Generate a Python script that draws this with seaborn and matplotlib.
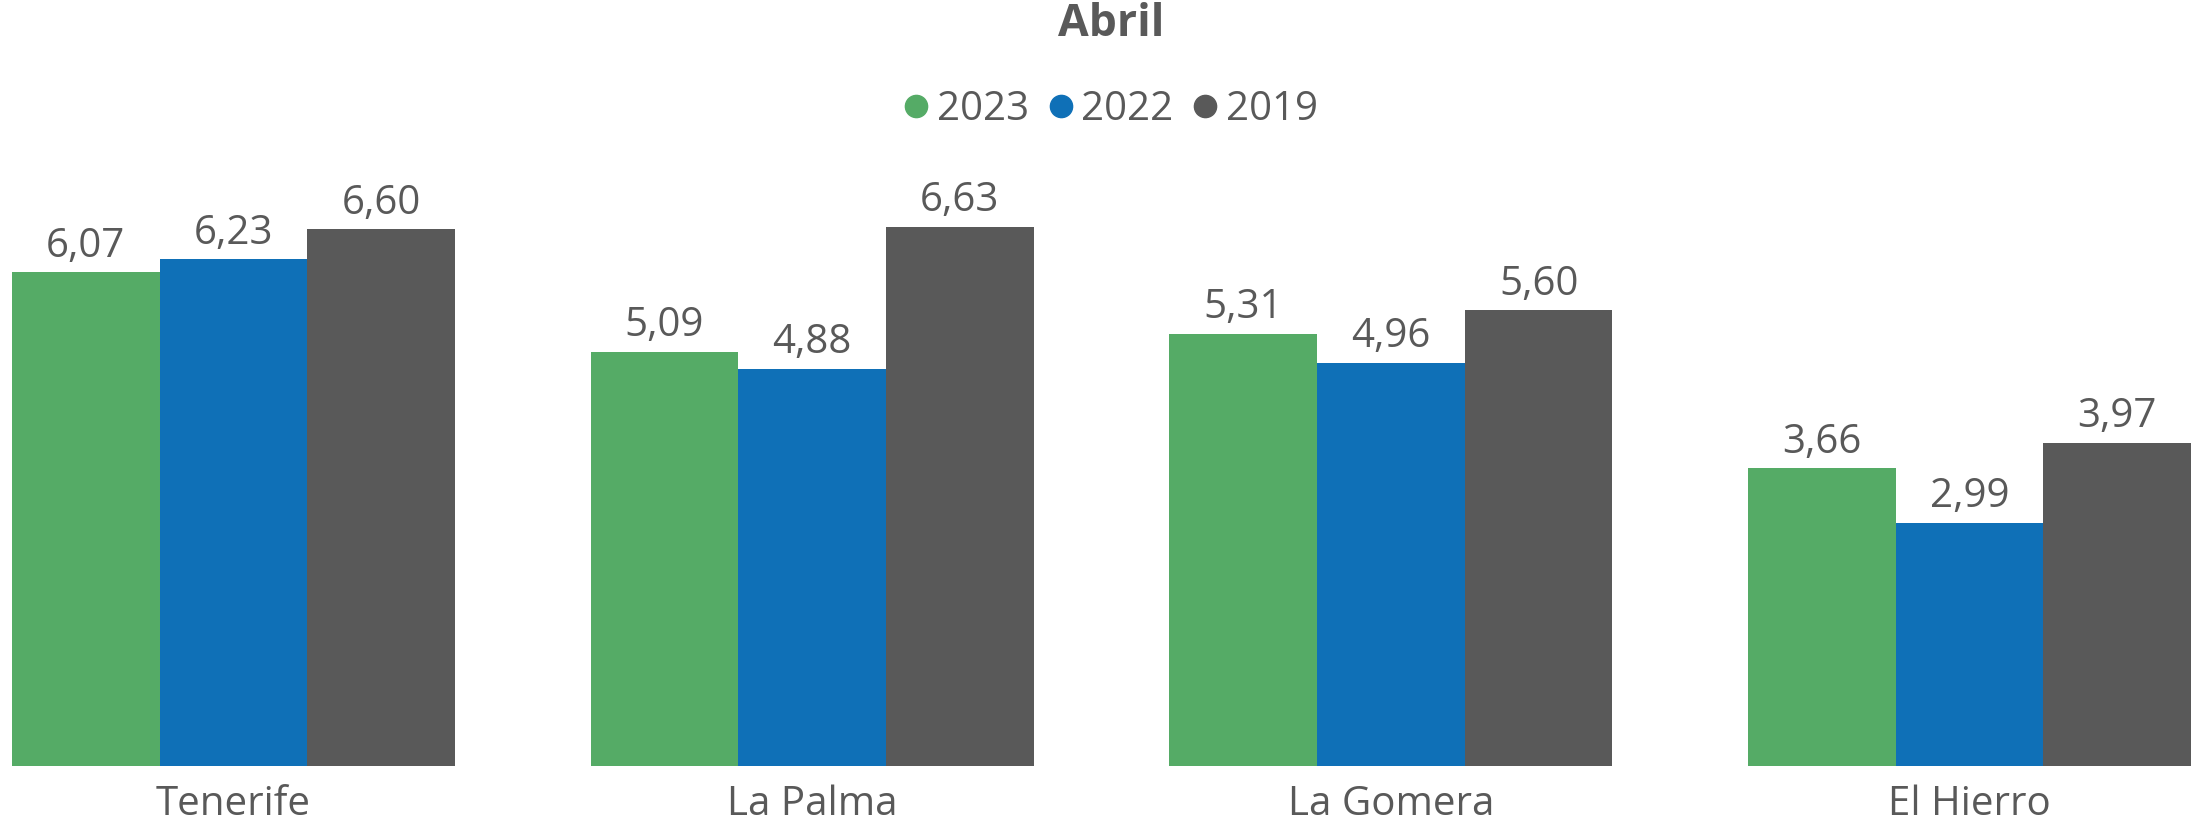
import pandas as pd
import matplotlib.pyplot as plt
import seaborn as sns
from matplotlib.lines import Line2D

# data
islands = ["Tenerife", "La Palma", "La Gomera", "El Hierro"]
years = ["2023", "2022", "2019"]
v2023 = [6.07, 5.09, 5.31, 3.66]
v2022 = [6.23, 4.88, 4.96, 2.99]
v2019 = [6.60, 6.63, 5.60, 3.97]
colors = ["#55AB66", "#0F70B7", "#595959"]
text_col = "#595959"

df = pd.DataFrame({
    "isla": islands * 3,
    "year": [y for y in years for _ in islands],
    "valor": v2023 + v2022 + v2019,
})

sns.set_theme(style="white")
plt.rcParams["font.family"] = ["Open Sans", "DejaVu Sans"]

fig = plt.figure(figsize=(22.05, 8.24), dpi=100)
# axes from pixel 766 (bottom) up to pixel 100 (top)
ax = fig.add_axes([0, (824 - 766) / 824, 1, (766 - 100) / 824])

sns.barplot(data=df, x="isla", y="valor", hue="year", hue_order=years,
            palette=colors, width=0.766, gap=0, saturation=1,
            linewidth=0, legend=False, ax=ax)

for cont in ax.containers:
    ax.bar_label(cont, labels=[f"{b.get_height():.2f}".replace(".", ",") for b in cont],
                 padding=4, fontsize=29, color=text_col)

ax.set_xlim(-0.4035, 3.407)
ax.set_ylim(0, (766 - 100) / 81.35)
ax.set_xlabel("")
ax.set_ylabel("")
ax.set_yticks([])
ax.tick_params(axis="x", length=0, pad=13, labelsize=29, labelcolor=text_col)
sns.despine(ax=ax, left=True, bottom=True)

fig.text(0.504, 1 - 25 / 824, "Abril", ha="center", va="center",
         fontsize=32, fontweight="bold", color=text_col)

handles = [Line2D([], [], marker="o", linestyle="", markersize=16,
                  markerfacecolor=c, markeredgecolor=c) for c in colors]
leg = fig.legend(handles, years, loc="center", bbox_to_anchor=(0.502, 1 - 110 / 824),
                 ncol=3, frameon=False, fontsize=29, handletextpad=0.0,
                 columnspacing=0.3, handlelength=1.0, borderaxespad=0)
for t in leg.get_texts():
    t.set_color(text_col)

fig.savefig("out.png", dpi=100)
